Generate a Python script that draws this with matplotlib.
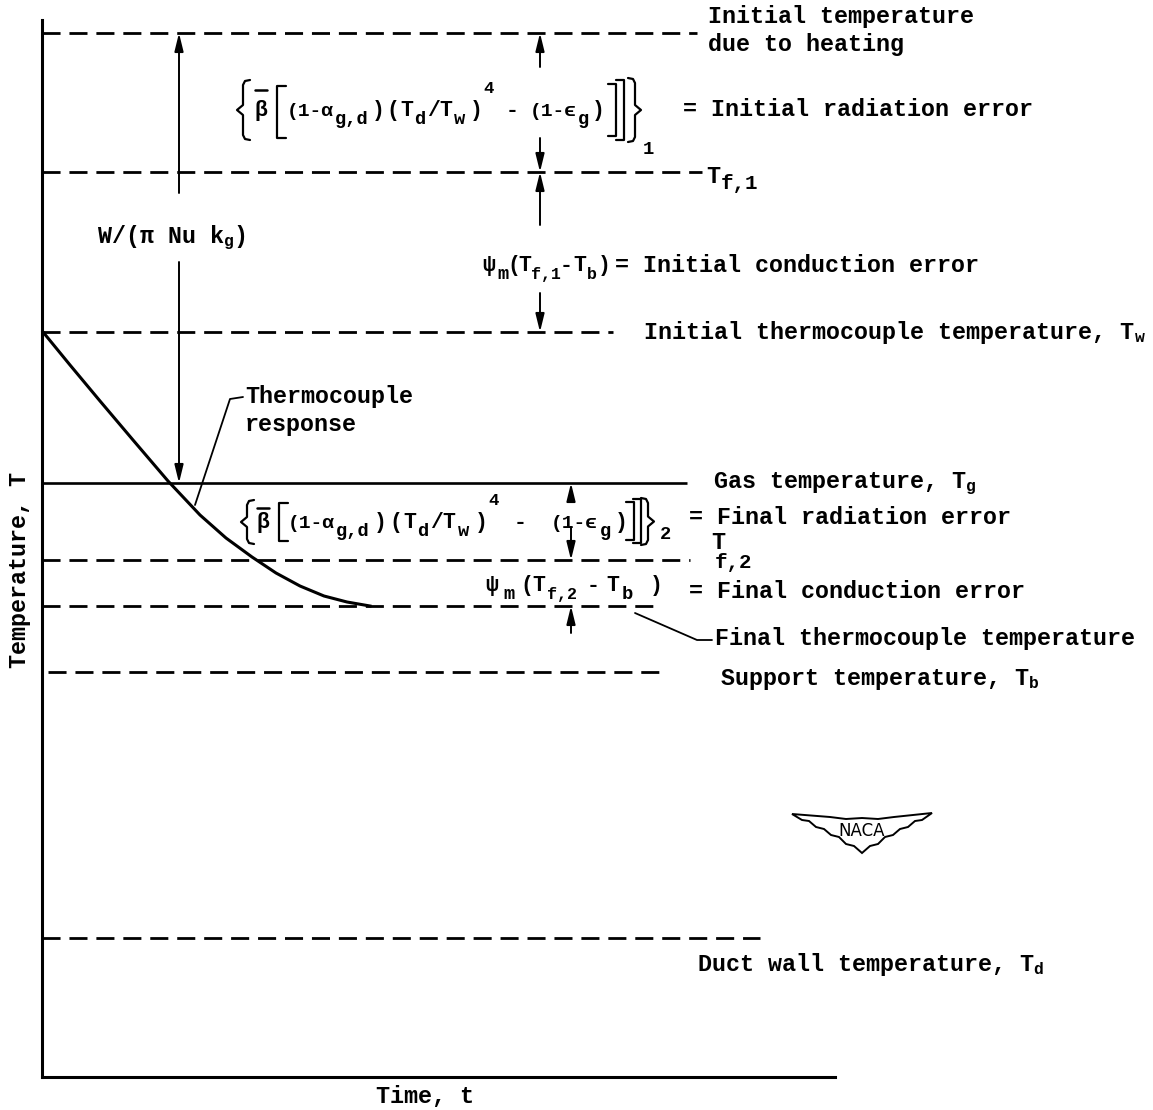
import matplotlib
matplotlib.use("Agg")
import matplotlib.pyplot as plt
from matplotlib.patches import Polygon

plt.rcParams['font.family'] = ['Liberation Mono', 'DejaVu Sans']
plt.rcParams['mathtext.fontset'] = 'custom'
for k in ('rm', 'it', 'sf', 'tt', 'bf'):
    plt.rcParams['mathtext.' + k] = 'Liberation Mono:bold'

# ---------------- data (schematic units: time, temperature) ----------------
level_names  = ["heating", "Tf1", "Tw", "Tg", "Tf2", "final", "Tb", "Td"]
level_T      = [1044, 905, 745, 594, 517, 471, 405, 139]
level_xstart = [0, 0, 0, 0, 0, 0, 6, 0]
level_xend   = [655, 660, 571, 645, 648, 613, 621, 718]
level_solid  = [False, False, False, True, False, False, False, False]

# thermocouple response curve
resp_t = [1, 28, 58, 91, 126, 158, 184, 210, 234, 258, 282, 305, 328]
resp_T = [745, 712, 676, 637, 596, 562, 539, 520, 504, 491, 481, 475, 471]

# dimension arrows: (x, tail T, head T)
arrows = [
    (137, 884, 1044), (137, 815, 594),          # W/(pi Nu kg)
    (498, 1010, 1044), (498, 939, 905),         # initial radiation error
    (498, 852, 905), (498, 784, 745),           # initial conduction error
    (529, 577, 594), (529, 550, 517),           # final radiation error
    (529, 444, 471),                            # final conduction error
]

# ---------------- figure ----------------
W, H = 1153, 1110
fig = plt.figure(figsize=(W / 100, H / 100), dpi=100)
L, B, R, T = 42, 1077, 835, 20
ax = fig.add_axes([L / W, (H - B) / H, (R - L) / W, (B - T) / H])
ax.set_xlim(0, R - L)
ax.set_ylim(0, B - T)
for s in ("top", "right"):
    ax.spines[s].set_visible(False)
for s in ("left", "bottom"):
    ax.spines[s].set_linewidth(2.2)
ax.set_xticks([])
ax.set_yticks([])

def P(px, py):
    return px - L, B - py

FS = 16.8                      # body text
FM, FM_SUB, FM_SUP = 15.5, 13.5, 12.5   # formula glyphs
FG = 14                        # grouped formula runs
WT = 'bold'
dash = (0, (6.5, 3.2))
for T_, x0, x1, solid in zip(level_T, level_xstart, level_xend, level_solid):
    ax.plot([x0, x1], [T_, T_], color='k', lw=1.9 if solid else 2.0,
            linestyle='-' if solid else dash, clip_on=False, solid_capstyle='butt')

ax.plot(resp_t, resp_T, color='k', lw=2.2, clip_on=False)

for x, t0, t1 in arrows:
    ax.annotate("", xy=(x, t1), xytext=(x, t0),
                arrowprops=dict(arrowstyle='-|>,head_length=0.9,head_width=0.22',
                                lw=1.4, color='k', shrinkA=0, shrinkB=0,
                                mutation_scale=12), annotation_clip=False)

def poly(pts, lw=1.6):
    xs, ys = zip(*[P(a, b) for a, b in pts])
    ax.plot(xs, ys, color='k', lw=lw, clip_on=False, solid_joinstyle='round',
            solid_capstyle='round')

# leader lines
poly([(195, 505), (230, 399), (243, 397)], lw=1.3)
poly([(635, 613), (697, 640), (712, 640)], lw=1.3)

def txt(px, py, s, fs=FS, ha='left', va='center'):
    x, y = P(px, py)
    ax.text(x, y, s, fontsize=fs, ha=ha, va=va, fontweight=WT, clip_on=False)

def g(ch, px, base, fs=FM, ha='center'):
    txt(px, base, ch, fs=fs, ha=ha, va='baseline')

def seq(items, base, sub=8, sup_base=None):
    for it in items:
        ch, xc, k = it[:3]
        if k == 'n':
            g(ch, xc, base, it[3] if len(it) > 3 else FM)
        elif k == 's':
            g(ch, xc, base + sub, it[3] if len(it) > 3 else FM_SUB)
        else:
            g(ch, xc, sup_base, FM_SUP)

def lbrace(tip, arm, top, bot):
    m = (top + bot) / 2
    poly([(arm + 7, top), (arm + 2, top + 1), (arm, top + 5), (arm, m - 5), (tip, m),
          (arm, m + 5), (arm, bot - 5), (arm + 2, bot - 1), (arm + 7, bot)])

def rbrace(tip, arm, top, bot):
    m = (top + bot) / 2
    poly([(arm - 7, top), (arm - 2, top + 1), (arm, top + 5), (arm, m - 5), (tip, m),
          (arm, m + 5), (arm, bot - 5), (arm - 2, bot - 1), (arm - 7, bot)])

def lbrack(x, top, bot, w=9):
    poly([(x + w, top), (x, top), (x, bot), (x + w, bot)])

def rbrack(x, top, bot, w=8):
    poly([(x - w, top), (x, top), (x, bot), (x - w, bot)])

# ---- radiation-error formulas (typewriter layout) ----
f1_items = [("(1-α", 310, 'n', FG), ("g,d", 352, 's'), (")", 378, 'n'),
            ("(", 393, 'n'), ("T", 407, 'n'), ("d", 420, 's'), ("/", 433, 'n'),
            ("T", 446, 'n'), ("w", 460, 's'), (")", 476, 'n'), ("4", 489, 'p'),
            ("-", 512, 'n'), ("(1-ϵ", 553, 'n', FG), ("g", 583, 's'), (")", 598, 'n')]
f2_items = [("(1-α", 311, 'n', FG), ("g,d", 353, 's'), (")", 380, 'n'),
            ("(", 396, 'n'), ("T", 410, 'n'), ("d", 423, 's'), ("/", 436, 'n'),
            ("T", 449, 'n'), ("w", 464, 's'), (")", 481, 'n'), ("4", 494, 'p'),
            ("-", 520, 'n'), ("(1-ϵ", 574, 'n', FG), ("g", 605, 's'), (")", 621, 'n')]

# formula 1
lbrace(237, 243, 80, 140)
g("β", 261, 116)
poly([(255, 90), (267, 90)], lw=1.8)
lbrack(277, 86, 138)
seq(f1_items, 116, sup_base=93)
rbrack(616, 84, 136)
rbrack(624, 80, 140)
rbrace(641, 635, 78, 142)
g("1", 648, 154, FM_SUB)

# formula 2
lbrace(241, 247, 500, 544)
g("β", 263, 528)
poly([(257, 508), (269, 508)], lw=1.8)
lbrack(279, 503, 541)
seq(f2_items, 528, sup_base=505)
rbrack(634, 502, 540)
rbrack(641, 499, 543)
rbrace(654, 648, 498, 545)
g("2", 665, 539, FM_SUB)

# conduction-error expressions
ca_items = [("ψ", 489, 'n'), ("m", 503, 's'), ("(", 514, 'n'), ("T", 525, 'n'),
            ("f,1", 546, 's', 12), ("-", 566, 'n'),
            ("T", 580, 'n'), ("b", 592, 's', 12), (")", 604, 'n')]
cb_items = [("ψ", 492, 'n'), ("m", 509, 's'), ("(", 527, 'n'), ("T", 539, 'n'),
            ("f,2", 562, 's', 12), ("-", 593, 'n'),
            ("T", 613, 'n'), ("b", 627, 's'), (")", 656, 'n')]
seq(ca_items, 271)
seq(cb_items, 591)

# labels
txt(708, 17, "Initial temperature")
txt(708, 45, "due to heating")
txt(683, 110, "= Initial radiation error")
g("T", 713, 183, FS)
g("f,1", 721, 189, 15, ha='left')
txt(97, 238, r"W/(π Nu k$_g$)")
txt(615, 265, "= Initial conduction error")
txt(643, 333, r"Initial thermocouple temperature, T$_w$")
txt(245, 397, "Thermocouple")
txt(245, 425, "response")
txt(713, 484, r"Gas temperature, T$_g$")
txt(689, 517, "= Final radiation error")
g("T", 718, 549, FS)
g("f,2", 715, 568, 15, ha='left')
txt(689, 592, "= Final conduction error")
txt(715, 639, "Final thermocouple temperature")
txt(720, 680, r"Support temperature, T$_b$")
txt(697, 965, r"Duct wall temperature, T$_d$")

ax.set_xlabel("Time, t", fontsize=FS, fontweight=WT)
ax.xaxis.set_label_coords((425 - L) / (R - L), -0.008)
ax.set_ylabel("Temperature, T", fontsize=FS, fontweight=WT)
ax.yaxis.set_label_coords(-0.014, (B - 570) / (B - T))

# NACA logo (decoration)
def F(px, py):
    return px / W, 1 - py / H
wing = [F(792, 814), F(830, 817), F(846, 819), F(862, 818), F(878, 819), F(894, 817),
        F(932, 813), F(922, 820), F(915, 821), F(908, 827), F(900, 829), F(893, 835),
        F(885, 837), F(878, 844), F(870, 846), F(862, 853), F(854, 846), F(846, 844),
        F(839, 837), F(831, 835), F(824, 829), F(816, 827), F(809, 821), F(802, 820)]
fig.patches.append(Polygon(wing, closed=True, fill=False, ec='k', lw=1.4,
                           transform=fig.transFigure))
fig.text(*F(862, 831), "NACA", fontsize=12, ha='center', va='center',
         family='DejaVu Sans')

fig.savefig("out.png", dpi=100)
